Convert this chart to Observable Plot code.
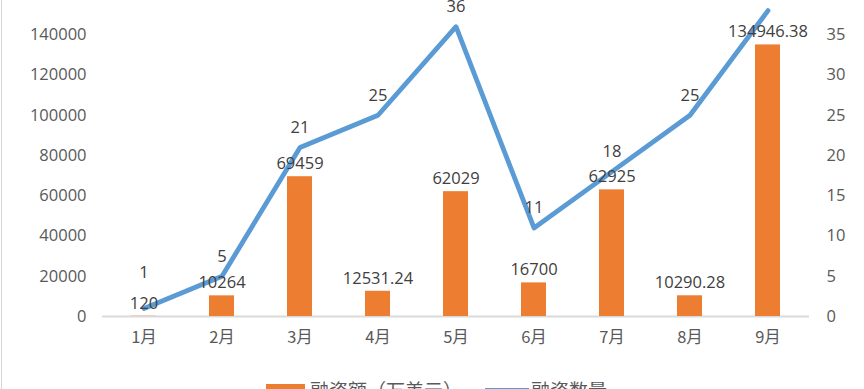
<!DOCTYPE html>
<html>
<head>
<meta charset="utf-8">
<script src="https://cdn.jsdelivr.net/npm/d3@7"></script>
<script src="https://cdn.jsdelivr.net/npm/@observablehq/plot@0.6"></script>
<style>
  html, body { margin: 0; padding: 0; width: 864px; height: 389px; overflow: hidden; background: #fff; }
  #chart { position: absolute; left: 0; top: -26px; }
  #border { position: absolute; left: 1px; top: 0; width: 1px; height: 389px; background: #d6d6d6; }
  #legend { position: absolute; left: 266px; top: 378px; display: flex; align-items: center;
    font-family: "Noto Sans CJK SC", sans-serif; font-size: 19px; line-height: 24px; color: #595959; }
  .sw-bar { width: 39px; height: 12px; background: #ed7d31; margin-right: 5px; }
  .sw-line { width: 44px; height: 4px; background: #5b9bd5; margin-right: 2px; margin-left: 23px; }
</style>
</head>
<body>
<div id="border"></div>
<div id="chart"></div>
<div id="legend">
  <div class="sw-bar"></div><span>融资额（万美元）</span>
  <div class="sw-line"></div><span>融资数量</span>
</div>
<script>
const months = ["1月", "2月", "3月", "4月", "5月", "6月", "7月", "8月", "9月"];
const amounts = [120, 10264, 69459, 12531.24, 62029, 16700, 62925, 10290.28, 134946.38];
const counts = [1, 5, 21, 25, 36, 11, 18, 25, 38];
const leftTicks = [0, 20000, 40000, 60000, 80000, 100000, 120000, 140000, 160000];
const rightTicks = [0, 5, 10, 15, 20, 25, 30, 35, 40];

const RATIO = 160000 / 40;
const data = months.map((m, i) => ({month: m, amount: amounts[i], count: counts[i]}));
// line labels that would collide with the bar label are lifted further (as the spreadsheet did)
const collides = d => Math.abs(d.count * RATIO - d.amount) < 5000;

const numFont = "'Open Sans', 'Noto Sans CJK SC', sans-serif";
const chart = Plot.plot({
  width: 864,
  height: 400,
  marginTop: 20,
  marginBottom: 58,
  marginLeft: 102,
  marginRight: 55,
  x: {domain: months, paddingInner: 0.68, paddingOuter: 0.34, label: null},
  y: {domain: [0, 160000], label: null},
  style: {fontFamily: numFont, fontSize: "16.5px", color: "#595959", background: "transparent", overflow: "visible"},
  marks: [
    Plot.ruleY([0], {stroke: "#d9d9d9", strokeWidth: 2}),
    Plot.barY(data, {x: "month", y: "amount", fill: "#ed7d31"}),
    Plot.line(data, {x: "month", y: d => d.count * RATIO, stroke: "#5b9bd5", strokeWidth: 4.8, strokeLinejoin: "round", strokeLinecap: "round"}),
    Plot.text(data, {x: "month", y: "amount", text: d => String(d.amount), dy: -13, fill: "#404040", fontSize: 16.5, fontFamily: numFont}),
    Plot.text(data.filter(d => !collides(d)), {x: "month", y: d => d.count * RATIO, text: d => String(d.count), dy: -20, fill: "#404040", fontSize: 16.5, fontFamily: numFont}),
    Plot.text(data.filter(collides), {x: "month", y: d => d.count * RATIO, text: d => String(d.count), dy: -36, fill: "#404040", fontSize: 16.5, fontFamily: numFont}),
    Plot.axisY({ticks: leftTicks, anchor: "left", tickSize: 0, tickPadding: 16, label: null, tickFormat: d3.format("d"), fontSize: 16.5}),
    Plot.axisY({ticks: rightTicks.map(v => v * RATIO), anchor: "right", tickSize: 0, tickPadding: 17, label: null, tickFormat: d => String(d / RATIO), fontSize: 16.5}),
    Plot.axisX({tickSize: 0, tickPadding: 15, label: null, fontSize: 16.5, fontFamily: "'Noto Sans CJK SC', sans-serif"})
  ]
});
document.getElementById("chart").appendChild(chart);
</script>
</body>
</html>
